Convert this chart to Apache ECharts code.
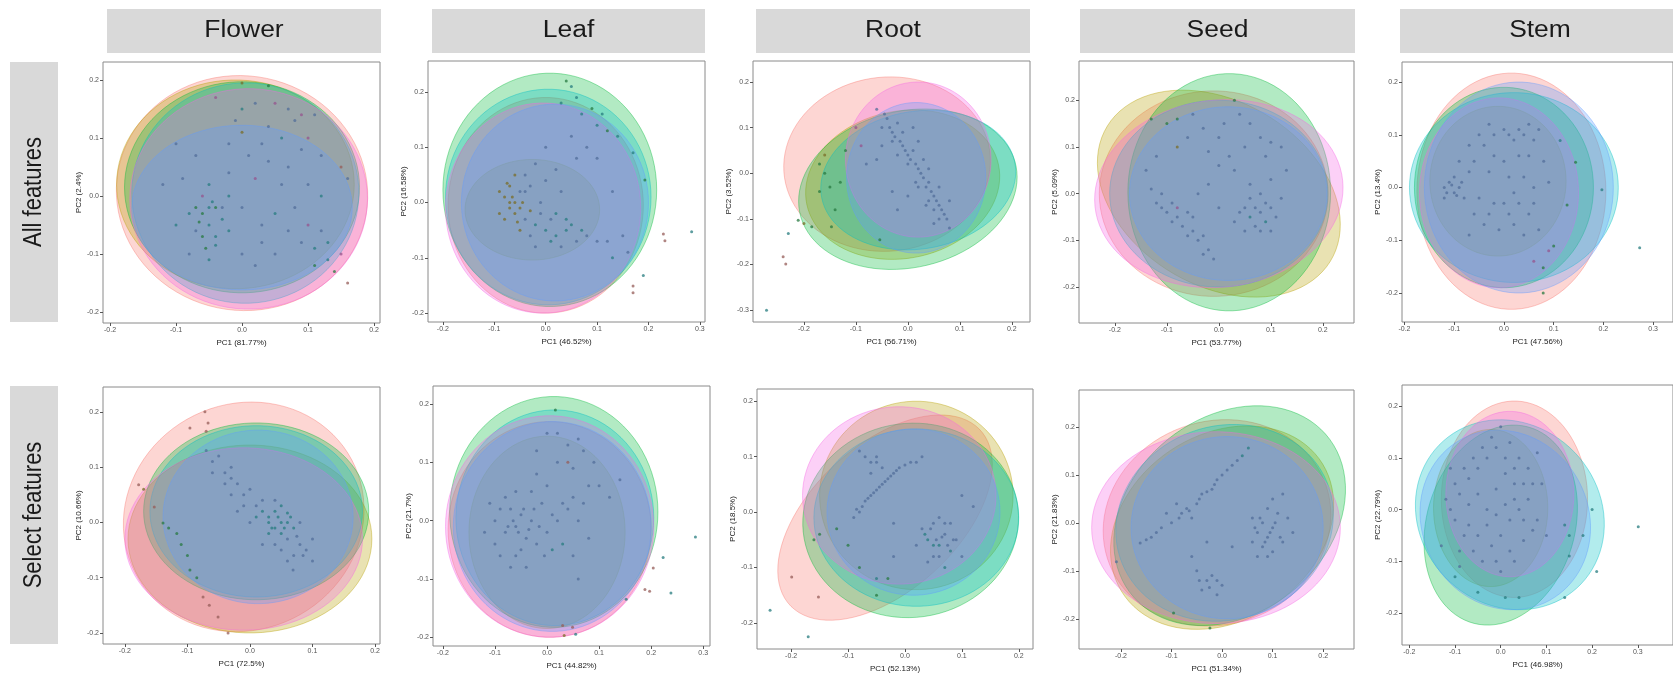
<!DOCTYPE html>
<html><head><meta charset="utf-8">
<script src="https://cdn.jsdelivr.net/npm/echarts@6/dist/echarts.min.js"></script>
<style>html,body{margin:0;padding:0;background:#fff}#c{width:1673px;height:679px}</style>
</head><body><div id="c"></div>
<script>
// ---------------- DATA ----------------
const tissues = ['Flower', 'Leaf', 'Root', 'Seed', 'Stem'];
const featureSets = ['All features', 'Select features'];
const pc1Titles = ['PC1 (81.77%)', 'PC1 (46.52%)', 'PC1 (56.71%)', 'PC1 (53.77%)', 'PC1 (47.56%)',
                   'PC1 (72.5%)', 'PC1 (44.82%)', 'PC1 (52.13%)', 'PC1 (51.34%)', 'PC1 (46.98%)'];
const pc2Titles = ['PC2 (2.4%)', 'PC2 (16.58%)', 'PC2 (3.52%)', 'PC2 (5.09%)', 'PC2 (13.4%)',
                   'PC2 (10.66%)', 'PC2 (21.7%)', 'PC2 (18.5%)', 'PC2 (21.83%)', 'PC2 (22.79%)'];
const ticks5 = [-0.2, -0.1, 0, 0.1, 0.2];
const ticks6 = [-0.2, -0.1, 0, 0.1, 0.2, 0.3];
const ticksRootY = [-0.3, -0.2, -0.1, 0, 0.1, 0.2];
const xTicks = [ticks5, ticks6, ticks5, ticks5, ticks6, ticks5, ticks6, ticks5, ticks5, ticks6];
const yTicks = [ticks5, ticks5, ticksRootY, ticks5, ticks5, ticks5, ticks5, ticks5, ticks5, ticks5];

// ellipses per panel: [cx, cy, rx, ry, angleDeg, group]
const ellFlowerAll = [[0.0,0.005,0.19,0.203,10,0],[-0.01,0.02,0.18,0.18,0,1],[0.0,0.015,0.178,0.182,0,2],[0.005,0.005,0.172,0.19,0,3],[0.01,-0.005,0.18,0.19,0,5],[0.0,-0.02,0.167,0.142,0,4]];
const ellLeafAll   = [[0.0,-0.005,0.19,0.195,0,0],[-0.026,-0.013,0.131,0.091,0,1],[0.008,0.023,0.208,0.211,0,2],[0.005,0.01,0.2,0.195,0,3],[-0.005,-0.01,0.19,0.19,0,5],[0.018,0.0,0.182,0.178,0,4]];
const ellRootAll   = [[-0.04,0.02,0.2,0.19,20,0],[-0.01,-0.025,0.19,0.16,20,1],[0.0,-0.035,0.215,0.17,20,2],[0.02,-0.015,0.19,0.15,15,3],[0.02,0.03,0.14,0.17,0,5],[0.016,-0.01,0.134,0.165,0,4]];
const ellSeedAll   = [[-0.01,0.0,0.22,0.22,0,0],[0.0,0.0,0.26,0.19,-40,1],[0.02,0.003,0.195,0.254,0,2],[0.0,0.0,0.21,0.2,0,3],[0.0,0.0,0.24,0.2,10,5],[0.018,0.0,0.19,0.186,0,4]];
const ellStemAll   = [[0.015,-0.007,0.19,0.224,0,0],[-0.012,0.012,0.137,0.142,0,1],[0.0,0.0,0.18,0.19,0,2],[0.02,0.0,0.21,0.18,0,3],[-0.01,-0.01,0.16,0.18,0,5],[0.03,0.0,0.19,0.2,0,4]];
const ellFlowerSel = [[-0.01,0.01,0.19,0.21,-20,0],[0.0,-0.03,0.195,0.17,0,1],[0.01,0.02,0.18,0.16,0,2],[0.01,0.02,0.17,0.155,0,3],[-0.01,-0.03,0.19,0.165,0,5],[0.013,0.01,0.152,0.157,0,4]];
const ellLeafSel   = [[0.005,-0.015,0.195,0.185,0,0],[0.0,-0.02,0.15,0.165,0,1],[0.013,0.015,0.2,0.198,0,2],[0.015,0.005,0.19,0.185,0,3],[0.005,-0.01,0.2,0.19,0,5],[0.01,-0.01,0.19,0.18,0,4]];
const ellRootSel   = [[-0.035,-0.01,0.23,0.13,44,0],[0.02,0.03,0.17,0.17,0,1],[0.01,-0.015,0.19,0.175,10,2],[0.02,-0.01,0.18,0.16,0,3],[-0.01,0.03,0.17,0.16,0,5],[0.015,0.0,0.152,0.15,0,4]];
const ellSeedSel   = [[-0.01,0.0,0.23,0.21,30,0],[0.0,-0.01,0.24,0.19,40,1],[0.015,0.015,0.255,0.2,45,2],[0.005,0.0,0.22,0.2,30,3],[-0.012,-0.01,0.246,0.2,0,5],[0.01,-0.01,0.19,0.19,0,4]];
const ellStemSel   = [[0.03,0.02,0.16,0.19,0,0],[-0.022,0.003,0.125,0.152,0,1],[0.0,-0.03,0.16,0.2,-25,2],[0.02,-0.01,0.21,0.18,-20,3],[0.02,0.03,0.14,0.16,0,5],[0.01,-0.02,0.19,0.17,-25,4]];

// points per panel: [PC1, PC2, group]
const ptsFlowerAll = [[-0.05,0.02,3],[-0.045,-0.01,3],[-0.06,-0.03,2],[-0.05,-0.05,3],[-0.07,-0.06,4],[-0.04,-0.07,3],[-0.055,-0.09,2],[-0.08,-0.1,4],[-0.03,-0.04,3],[-0.06,0.0,5],
  [-0.07,0.07,4],[-0.02,0.09,4],[0.0,0.11,1],[0.04,0.06,4],[0.06,0.1,3],[0.09,0.08,4],[0.02,0.03,5],[-0.02,0.04,4],[0.0,-0.02,4],[0.05,-0.03,3],[0.08,-0.02,4],[0.03,-0.08,4],[0.1,-0.05,5],[0.0,-0.1,4],[-0.02,-0.06,3],[0.06,0.02,4],[0.1,0.02,4],[0.12,0.0,3],
  [0.0,0.195,1],[0.04,0.19,2],[-0.04,0.17,5],[0.02,0.16,4],[0.05,0.16,5],[0.09,0.14,5],[0.11,0.14,4],[0.07,0.15,4],[0.0,0.15,3],
  [0.12,-0.06,4],[0.13,-0.08,3],[0.11,-0.12,2],[0.13,-0.11,3],[0.14,-0.13,2],[0.15,-0.1,5],[0.15,0.05,0],[0.16,0.03,4],[0.16,-0.15,0],
  [-0.09,0.03,4],[0.07,-0.06,4],[-0.1,-0.05,3],[0.04,0.12,4],[-0.08,-0.03,3],[-0.04,-0.02,2],
  [-0.05,-0.02,3],[-0.065,-0.045,2],[-0.04,-0.085,3],[-0.06,-0.07,2],[-0.05,-0.11,3],[-0.03,-0.02,4],[-0.07,-0.02,2],[0.01,0.07,4],[0.03,0.09,4],[0.07,0.05,4],[0.09,-0.08,4],[0.05,-0.1,4],[0.02,-0.12,4],[-0.01,0.13,4],[0.1,0.1,5],[0.12,0.07,4],[-0.1,0.09,4],[-0.12,0.02,4],[0.08,0.13,4],[0.03,-0.05,4],[0.11,-0.09,3],[-0.02,0.0,3]];
const ptsLeafAll = [[-0.08,0.01,1],[-0.07,-0.01,1],[-0.06,0.0,1],[-0.05,0.02,4],[-0.06,-0.02,1],[-0.04,-0.03,4],[-0.03,0.03,4],[-0.07,0.03,1],[-0.02,-0.04,3],[-0.03,-0.06,4],[0.0,-0.05,3],[0.02,-0.06,3],[0.03,-0.08,4],[0.01,-0.03,4],[-0.01,0.0,4],[0.0,0.04,4],[-0.04,0.05,4],[-0.02,0.07,4],[0.05,-0.04,3],[0.06,-0.07,4],[0.08,-0.06,4],[0.03,0.02,4],
  [-0.09,-0.02,1],[-0.05,-0.05,1],[0.02,-0.02,3],[0.04,-0.03,3],
  [0.04,0.22,2],[0.05,0.21,3],[0.06,0.19,3],[0.09,0.17,2],[0.11,0.16,3],[0.1,0.14,3],[0.12,0.13,2],[0.14,0.12,3],[0.17,0.09,3],[0.193,0.041,2],[0.07,0.16,3],[0.03,0.18,3],[0.08,0.1,4],[0.1,0.08,4],[0.05,0.12,4],[0.0,0.1,4],
  [0.12,-0.07,4],[0.15,-0.06,4],[0.13,-0.1,3],[0.16,-0.09,4],
  [0.284,-0.053,3],[0.229,-0.057,0],[0.232,-0.069,0],[0.17,-0.151,0],[0.17,-0.163,0],[0.19,-0.132,3],
  [-0.09,0.02,1],[-0.08,-0.03,1],[-0.07,0.0,1],[-0.05,-0.01,1],[-0.065,0.01,1],[-0.055,-0.035,1],[-0.045,0.0,1],[-0.04,0.02,4],[-0.075,0.035,1],[-0.01,-0.02,4],[0.01,-0.07,3],[0.04,-0.05,3],[0.07,-0.05,3],[0.1,-0.07,4],[-0.03,-0.015,1],[0.02,0.06,4],[0.06,0.08,4],[-0.06,0.05,1],[-0.02,-0.08,4],[0.13,0.02,4]];
const ptsRootAll = [[-0.06,0.14,4],[-0.04,0.12,4],[-0.05,0.1,4],[-0.03,0.09,4],[-0.02,0.11,4],[-0.03,0.07,4],[-0.01,0.06,4],[0.0,0.04,4],[0.01,0.05,4],[0.0,0.02,4],[0.02,0.01,4],[0.03,-0.01,4],[0.02,-0.03,4],[0.04,-0.02,4],[0.05,-0.05,4],[0.04,-0.06,4],[0.06,-0.07,4],[0.07,-0.09,4],[0.06,-0.1,4],[0.08,-0.12,4],[0.05,-0.08,4],[0.03,0.03,4],[-0.01,0.09,4],[0.01,0.1,4],
  [-0.09,0.06,5],[-0.08,0.02,4],[-0.06,0.03,4],[-0.1,0.1,5],[-0.03,-0.04,4],[-0.02,-0.08,4],[0.0,-0.05,4],
  [-0.17,0.02,2],[-0.16,0.0,2],[-0.15,-0.03,2],[-0.17,-0.04,2],[-0.14,-0.08,2],[-0.13,-0.02,2],[-0.12,0.05,2],[-0.16,0.04,1],
  [-0.211,-0.103,2],[-0.2,-0.11,1],[-0.185,-0.117,2],[-0.147,-0.117,2],[-0.054,-0.146,2],
  [-0.23,-0.132,3],[-0.24,-0.183,0],[-0.235,-0.199,0],[-0.272,-0.3,3],
  [-0.045,0.13,4],[-0.035,0.1,4],[-0.025,0.08,4],[-0.015,0.07,4],[-0.005,0.05,4],[0.005,0.03,4],[0.015,0.02,4],[0.025,0.0,4],[0.035,-0.03,4],[0.045,-0.04,4],[0.055,-0.06,4],[0.065,-0.08,4],[0.075,-0.1,4],[0.05,-0.11,4],[0.035,-0.07,4],[0.015,-0.02,4],[-0.02,0.04,4],[0.04,0.01,4],[0.06,-0.03,4],[0.08,-0.06,4],[-0.05,0.06,4],[0.02,0.07,4]];
const ptsSeedAll = [[-0.12,-0.02,4],[-0.1,-0.04,4],[-0.08,-0.03,5],[-0.09,-0.06,4],[-0.07,-0.07,4],[-0.05,-0.05,4],[-0.06,-0.09,4],[-0.04,-0.1,4],[-0.02,-0.12,4],[-0.01,-0.14,4],[-0.03,-0.13,4],[-0.11,0.0,4],[-0.13,0.01,4],
  [0.05,-0.03,4],[0.06,-0.05,3],[0.08,-0.04,4],[0.07,-0.07,4],[0.09,-0.06,3],[0.1,-0.03,4],[0.05,-0.08,4],[0.03,-0.06,4],[0.11,-0.05,4],[0.08,0.0,4],[0.06,0.02,4],[0.1,0.03,4],[0.12,-0.01,4],
  [-0.1,0.15,2],[-0.08,0.16,2],[-0.05,0.17,4],[-0.03,0.14,4],[0.0,0.12,4],[-0.12,0.08,4],[-0.08,0.1,1],[0.02,0.08,4],[0.05,0.1,4],[0.08,0.12,4],[0.1,0.11,4],[0.12,0.1,4],[0.06,0.15,4],[0.03,0.05,4],[-0.02,0.02,4],[0.0,-0.03,4],[0.04,0.17,4],[-0.13,0.16,2],[0.03,0.2,2],
  [-0.11,-0.03,4],[-0.09,-0.02,4],[-0.08,-0.05,4],[-0.06,-0.04,4],[-0.05,-0.08,4],[-0.03,-0.09,4],[0.06,-0.01,4],[0.07,-0.03,4],[0.09,-0.02,4],[0.08,-0.08,4],[0.1,-0.08,4],[0.04,-0.04,4],[-0.06,0.12,4],[-0.02,0.09,4],[0.01,0.15,4],[0.09,0.08,4],[0.13,0.05,4],[-0.14,0.05,4],[0.0,0.06,4],[-0.04,0.0,4]];
const ptsStemAll = [[-0.12,0.0,4],[-0.11,0.01,4],[-0.1,-0.01,4],[-0.09,0.0,4],[-0.1,0.02,4],[-0.08,-0.02,4],[-0.12,-0.02,4],
  [-0.06,0.05,4],[-0.04,0.08,4],[-0.02,0.1,4],[0.0,0.11,4],[0.02,0.09,4],[0.04,0.1,4],[0.05,0.12,4],[0.06,0.09,4],[0.03,0.06,4],[0.0,0.05,4],[-0.03,0.03,4],[-0.05,-0.02,4],[-0.03,-0.05,4],[0.0,-0.03,4],[0.02,-0.01,4],[0.04,0.02,4],[0.06,0.0,4],[0.05,-0.05,4],[0.02,-0.07,4],[-0.01,-0.08,4],[-0.04,-0.07,4],[0.07,-0.08,4],[0.08,0.05,4],[-0.07,0.08,4],[0.01,0.02,4],
  [0.113,0.089,3],[0.144,0.048,2],[0.197,-0.004,3],[0.127,-0.033,2],[0.1,-0.111,2],[0.079,-0.152,2],[0.079,-0.2,2],[0.09,-0.12,5],[0.06,-0.14,5],
  [0.273,-0.114,3],
  [-0.115,-0.01,4],[-0.105,0.005,4],[-0.095,-0.015,4],[-0.085,0.01,4],[-0.07,0.03,4],[-0.05,0.1,4],[-0.03,0.12,4],[0.01,0.1,4],[0.03,0.11,4],[0.07,0.11,4],[0.05,0.06,4],[-0.02,0.06,4],[-0.06,-0.05,4],[-0.02,-0.03,4],[0.01,-0.05,4],[0.03,-0.03,4],[0.06,-0.03,4],[0.04,-0.09,4],[-0.07,-0.09,4],[0.09,0.01,4],[-0.09,0.05,4]];
const ptsFlowerSel = [[-0.072,0.2,0],[-0.096,0.171,0],[-0.067,0.18,0],[-0.07,0.165,0],
  [-0.178,0.068,0],[-0.17,0.06,1],[-0.153,0.028,0],[-0.139,-0.001,2],[-0.13,-0.01,2],[-0.117,-0.02,2],[-0.11,-0.04,2],[-0.1,-0.06,2],[-0.096,-0.086,2],[-0.085,-0.1,2],[-0.075,-0.135,0],[-0.065,-0.15,0],[-0.051,-0.171,0],[-0.035,-0.2,0],
  [-0.07,0.13,4],[-0.06,0.11,4],[-0.05,0.12,4],[-0.04,0.09,4],[-0.03,0.1,4],[-0.02,0.07,4],[-0.01,0.05,4],[0.0,0.06,4],[0.01,0.03,4],[0.02,0.04,4],[0.03,0.01,3],[0.04,0.02,3],[0.05,0.0,3],[0.06,0.017,3],[0.05,-0.02,3],[0.07,-0.01,3],[0.06,-0.03,4],[0.08,-0.04,4],[0.07,-0.06,4],[0.09,-0.05,4],[0.069,-0.086,4],[0.04,0.04,4],[0.03,-0.02,3],[0.1,-0.03,4],[0.02,-0.04,4],[-0.02,0.02,4],[0.05,0.03,3],[0.04,-0.01,3],[0.06,0.0,3],
  [-0.06,0.09,4],[-0.04,0.07,4],[-0.03,0.05,4],[-0.01,0.03,4],[0.01,0.01,3],[0.02,0.02,3],[0.03,0.0,3],[0.035,-0.01,3],[0.045,0.01,3],[0.055,-0.01,3],[0.065,0.01,3],[0.075,-0.025,4],[0.085,-0.06,4],[0.05,-0.05,4],[0.04,-0.04,4],[0.08,0.0,4],[0.0,0.0,4],[-0.03,0.08,4],[0.06,-0.07,4],[0.1,-0.07,4]];
const ptsLeafSel = [[-0.1,0.0,4],[-0.08,-0.02,4],[-0.07,0.02,4],[-0.06,-0.01,4],[-0.05,0.01,4],[-0.04,-0.03,4],[-0.03,0.0,4],[-0.05,-0.05,4],[-0.02,-0.04,4],[0.0,-0.02,4],[0.01,-0.05,3],[-0.01,0.03,4],[-0.03,0.05,4],[-0.06,0.05,4],[-0.09,-0.06,4],[-0.07,-0.08,4],[0.02,0.0,4],[0.03,-0.04,3],[0.05,-0.06,4],[0.04,0.02,4],[0.06,0.0,4],[0.08,-0.03,4],[-0.11,0.03,4],[-0.04,-0.08,4],
  [0.016,0.19,2],[0.0,0.15,4],[0.02,0.15,4],[0.04,0.13,4],[0.06,0.14,4],[0.07,0.12,4],[0.09,0.1,4],[0.05,0.09,4],[0.02,0.1,4],[-0.02,0.12,4],[0.1,0.06,4],[0.12,0.04,4],[0.14,0.07,4],[0.08,0.06,4],[0.04,0.1,0],
  [0.285,-0.028,3],[0.223,-0.063,3],[0.204,-0.081,0],[0.188,-0.118,0],[0.197,-0.121,0],[0.238,-0.124,3],[0.152,-0.135,3],[0.03,-0.18,0],[0.049,-0.183,0],[0.055,-0.195,3],[0.033,-0.197,1],
  [-0.09,0.02,4],[-0.075,-0.01,4],[-0.065,0.0,4],[-0.055,-0.02,4],[-0.045,0.02,4],[-0.035,-0.015,4],[-0.025,0.02,4],[-0.015,-0.01,4],[-0.005,-0.06,4],[0.01,0.01,4],[0.03,0.03,4],[-0.08,0.04,4],[-0.06,-0.06,4],[-0.1,-0.04,4],[0.05,0.04,4],[0.07,0.03,4],[-0.02,0.08,4],[0.0,0.06,4],[0.06,-0.1,4],[-0.12,-0.02,4]];
const ptsRootSel = [[-0.09,-0.01,4],[-0.08,0.0,4],[-0.07,0.02,4],[-0.06,0.03,4],[-0.05,0.04,4],[-0.04,0.05,4],[-0.03,0.06,4],[-0.02,0.07,4],[-0.01,0.08,4],[0.0,0.085,4],[0.02,0.09,4],[0.03,0.1,4],[-0.06,0.07,4],[-0.05,0.09,4],[-0.04,0.08,4],[-0.07,0.1,4],[-0.08,0.11,4],
  [0.03,-0.03,4],[0.04,-0.05,3],[0.05,-0.02,4],[0.06,-0.06,3],[0.07,-0.04,4],[0.08,-0.07,3],[0.05,-0.08,4],[0.06,-0.01,4],[0.09,-0.05,4],[0.1,-0.08,4],[0.04,-0.09,4],[0.07,-0.1,3],[0.02,-0.06,4],[0.08,-0.02,4],
  [-0.16,-0.05,2],[-0.15,-0.04,2],[-0.1,-0.06,2],[-0.08,-0.1,2],[-0.05,-0.12,3],[-0.03,-0.12,2],[-0.05,-0.15,2],[-0.12,-0.03,2],[-0.02,-0.08,4],
  [-0.199,-0.117,0],[-0.152,-0.153,0],[-0.237,-0.177,3],[-0.17,-0.225,3],
  [0.1,0.03,4],[0.12,0.01,4],[-0.02,-0.02,4],
  [-0.085,0.005,4],[-0.075,0.01,4],[-0.065,0.025,4],[-0.055,0.035,4],[-0.045,0.045,4],[-0.035,0.055,4],[-0.025,0.065,4],[-0.015,0.075,4],[0.01,0.09,4],[0.035,-0.04,3],[0.045,-0.03,4],[0.055,-0.05,4],[0.065,-0.045,4],[0.075,-0.06,4],[0.085,-0.05,4],[0.06,-0.08,4],[0.05,-0.06,3],[0.07,-0.02,4],[-0.06,0.09,4],[-0.05,0.1,4]];
const ptsSeedSel = [[-0.162,-0.042,4],[-0.14,-0.03,4],[-0.12,-0.01,4],[-0.1,0.0,4],[-0.08,0.02,4],[-0.07,0.03,4],[-0.05,0.04,4],[-0.04,0.06,4],[-0.02,0.07,4],[-0.01,0.09,4],[0.0,0.1,4],[0.02,0.12,4],[0.03,0.13,4],[0.04,0.14,3],[0.052,0.156,3],[-0.06,0.01,4],[-0.09,0.04,4],[-0.11,0.02,4],
  [-0.209,-0.081,4],
  [0.06,0.01,4],[0.07,-0.02,4],[0.08,0.0,4],[0.09,-0.03,4],[0.1,-0.01,4],[0.11,0.02,4],[0.08,-0.05,4],[0.1,-0.06,4],[0.12,-0.04,4],[0.13,0.01,4],[0.06,-0.04,4],[0.09,0.03,4],[0.14,-0.02,4],[0.07,-0.07,4],
  [-0.05,-0.1,4],[-0.03,-0.12,4],[-0.04,-0.14,4],[-0.02,-0.11,4],[0.0,-0.13,4],[-0.01,-0.15,4],[-0.06,-0.07,4],[0.02,-0.05,4],[-0.03,-0.04,4],
  [-0.096,-0.188,2],[-0.024,-0.219,2],
  [-0.15,-0.035,4],[-0.13,-0.02,4],[-0.085,0.01,4],[-0.065,0.025,4],[-0.045,0.05,4],[-0.03,0.065,4],[-0.015,0.08,4],[0.01,0.11,4],[0.065,-0.01,4],[0.075,0.01,4],[0.085,-0.04,4],[0.095,-0.02,4],[0.105,0.0,4],[0.115,-0.03,4],[0.09,-0.07,4],[-0.045,-0.12,4],[-0.025,-0.135,4],[-0.01,-0.12,4],[0.1,0.05,4],[0.12,0.06,4]];
const ptsStemSel = [[-0.12,0.02,4],[-0.1,0.05,4],[-0.08,0.08,4],[-0.06,0.1,4],[-0.04,0.12,4],[-0.02,0.14,4],[0.0,0.16,4],[0.02,0.13,4],[0.04,0.1,4],[0.06,0.08,4],[0.08,0.11,4],[0.09,0.05,4],[-0.1,-0.02,4],[-0.08,-0.05,4],[-0.06,-0.08,4],[-0.04,-0.1,4],[-0.02,-0.07,4],[0.0,-0.05,4],[0.02,-0.02,4],[0.04,0.0,4],[0.06,0.02,4],[0.08,-0.02,4],[-0.05,0.03,4],[-0.03,0.0,4],[-0.01,0.04,4],[0.01,0.07,4],[0.03,0.05,4],[-0.07,0.01,4],[0.05,-0.06,4],[0.03,-0.1,4],[-0.09,-0.11,4],[0.1,-0.05,4],[-0.13,-0.07,4],
  [-0.05,-0.16,3],[0.01,-0.17,3],[0.04,-0.17,3],[-0.1,-0.13,3],[0.0,-0.12,4],
  [0.14,-0.03,3],[0.15,-0.05,3],[0.18,-0.05,3],[0.15,-0.09,3],[0.21,-0.12,3],[0.14,-0.17,3],[0.2,0.0,3],
  [0.301,-0.033,3],
  [-0.11,0.0,4],[-0.09,0.03,4],[-0.07,0.06,4],[-0.05,0.08,4],[-0.03,0.1,4],[-0.01,0.12,4],[0.01,0.1,4],[0.03,0.08,4],[0.05,0.05,4],[0.07,0.05,4],[-0.09,-0.08,4],[-0.07,-0.03,4],[-0.05,-0.05,4],[-0.03,-0.03,4],[-0.01,-0.01,4],[0.01,0.01,4],[0.03,0.02,4],[0.05,-0.02,4],[0.07,-0.04,4],[-0.01,-0.1,4],[0.02,-0.08,4],[-0.11,0.08,4]];

const panelEllipses = [ellFlowerAll, ellLeafAll, ellRootAll, ellSeedAll, ellStemAll, ellFlowerSel, ellLeafSel, ellRootSel, ellSeedSel, ellStemSel];
const panelPoints = [ptsFlowerAll, ptsLeafAll, ptsRootAll, ptsSeedAll, ptsStemAll, ptsFlowerSel, ptsLeafSel, ptsRootSel, ptsSeedSel, ptsStemSel];

// ---------------- LAYOUT / STYLE ----------------
const groupColors = ['#F8766D', '#B79F00', '#00BA38', '#00BFC4', '#619CFF', '#F564E3'];
// panel boxes [left, top, right, bottom] in px
const gridBoxes = [[103,62,380,323],[428,61,705,322],[753,61,1030,322],[1079,61,1354,323],[1402,62,1702,322],
                   [103,387,380,644],[433,386,710,646],[757,389,1033,649],[1079,390,1354,649],[1402,385,1702,645]];
// axis ranges [xmin, xmax, ymin, ymax]
const axisRanges = [[-0.2106,0.209,-0.219,0.231],[-0.229,0.31,-0.216,0.256],[-0.298,0.235,-0.326,0.246],[-0.269,0.26,-0.277,0.284],[-0.205,0.34,-0.255,0.238],
                    [-0.235,0.208,-0.22,0.245],[-0.219,0.313,-0.215,0.231],[-0.26,0.225,-0.247,0.222],[-0.283,0.261,-0.263,0.277],[-0.216,0.377,-0.262,0.241]];
const colStrips = [[107,381],[432,705],[756,1030],[1080,1355],[1400,1680]];
const colStripY = [9, 53];
const rowStripX = [10, 58];
const rowStrips = [[62,322],[386,644]];
const FONT = '"Liberation Sans", Arial, sans-serif';

function rgba(hex, a) {
  const n = parseInt(hex.slice(1), 16);
  return 'rgba(' + ((n >> 16) & 255) + ',' + ((n >> 8) & 255) + ',' + (n & 255) + ',' + a + ')';
}
function darken(hex, f) {
  const n = parseInt(hex.slice(1), 16);
  const c = [(n >> 16) & 255, (n >> 8) & 255, n & 255].map(v => Math.round(v * f + 70 * (1 - f)));
  return 'rgb(' + c.join(',') + ')';
}

const grids = [], xAxes = [], yAxes = [], series = [];
gridBoxes.forEach((b, i) => {
  grids.push({left: b[0], top: b[1], width: b[2] - b[0], height: b[3] - b[1], show: true,
              borderColor: '#8a8a8a', borderWidth: 1, backgroundColor: '#fff', containLabel: false});
  const r = axisRanges[i];
  const common = {
    type: 'value', gridIndex: i, splitLine: {show: false}, axisLine: {show: false, onZero: false},
    nameLocation: 'middle', nameTextStyle: {fontSize: 8, color: '#222', fontFamily: FONT}
  };
  xAxes.push(Object.assign({}, common, {
    position: 'bottom', min: r[0], max: r[1], name: pc1Titles[i], nameGap: 16,
    axisTick: {show: true, inside: false, length: 3, lineStyle: {color: '#555'}, customValues: xTicks[i]},
    axisLabel: {customValues: xTicks[i], formatter: v => v.toFixed(1), fontSize: 7, color: '#555', margin: 4, fontFamily: FONT, showMinLabel: true, showMaxLabel: true}
  }));
  yAxes.push(Object.assign({}, common, {
    position: 'left', min: r[2], max: r[3], name: pc2Titles[i], nameGap: 20,
    axisTick: {show: true, inside: false, length: 3, lineStyle: {color: '#555'}, customValues: yTicks[i]},
    axisLabel: {customValues: yTicks[i], formatter: v => v.toFixed(1), fontSize: 7, color: '#555', margin: 4, fontFamily: FONT, showMinLabel: true, showMaxLabel: true}
  }));
  series.push({
    type: 'custom', xAxisIndex: i, yAxisIndex: i, z: 2, silent: true, clip: false,
    data: panelEllipses[i],
    encode: {x: 0, y: 1},
    renderItem: (params, api) => {
      const cx = api.value(0), cy = api.value(1), rx = api.value(2), ry = api.value(3);
      const ang = api.value(4) * Math.PI / 180, g = api.value(5);
      const pts = [];
      const N = 90;
      for (let k = 0; k < N; k++) {
        const t = k / N * 2 * Math.PI;
        const ex = rx * Math.cos(t), ey = ry * Math.sin(t);
        pts.push(api.coord([cx + ex * Math.cos(ang) - ey * Math.sin(ang), cy + ex * Math.sin(ang) + ey * Math.cos(ang)]));
      }
      return {type: 'polygon', shape: {points: pts},
              style: {fill: rgba(groupColors[g], 0.3), stroke: rgba(groupColors[g], 0.5), lineWidth: 0.8}};
    }
  });
  series.push({
    type: 'scatter', xAxisIndex: i, yAxisIndex: i, z: 3, symbolSize: 3, silent: true,
    data: panelPoints[i],
    itemStyle: {color: p => darken(groupColors[p.value[2]], 0.45), opacity: 0.75}
  });
});

const graphics = [];
colStrips.forEach((s, i) => {
  graphics.push({type: 'rect', shape: {x: s[0], y: colStripY[0], width: s[1] - s[0], height: colStripY[1] - colStripY[0]},
                 style: {fill: '#D9D9D9'}, silent: true});
  graphics.push({type: 'text', x: (s[0] + s[1]) / 2, y: (colStripY[0] + colStripY[1]) / 2, scaleX: 1.15, silent: true,
                 style: {text: tissues[i], fontSize: 23, fontFamily: FONT, fill: '#1a1a1a', align: 'center', verticalAlign: 'middle'}});
});
rowStrips.forEach((s, i) => {
  graphics.push({type: 'rect', shape: {x: rowStripX[0], y: s[0], width: rowStripX[1] - rowStripX[0], height: s[1] - s[0]},
                 style: {fill: '#D9D9D9'}, silent: true});
  graphics.push({type: 'text', x: (rowStripX[0] + rowStripX[1]) / 2, y: (s[0] + s[1]) / 2, rotation: Math.PI / 2, scaleY: 1.15, silent: true,
                 style: {text: featureSets[i], fontSize: 22, fontFamily: FONT, fill: '#1a1a1a', align: 'center', verticalAlign: 'middle'}});
});

const chart = echarts.init(document.getElementById('c'), null, {renderer: 'canvas'});
chart.setOption({
  animation: false,
  backgroundColor: '#fff',
  grid: grids, xAxis: xAxes, yAxis: yAxes, series: series,
  graphic: {elements: graphics}
});
</script></body></html>
